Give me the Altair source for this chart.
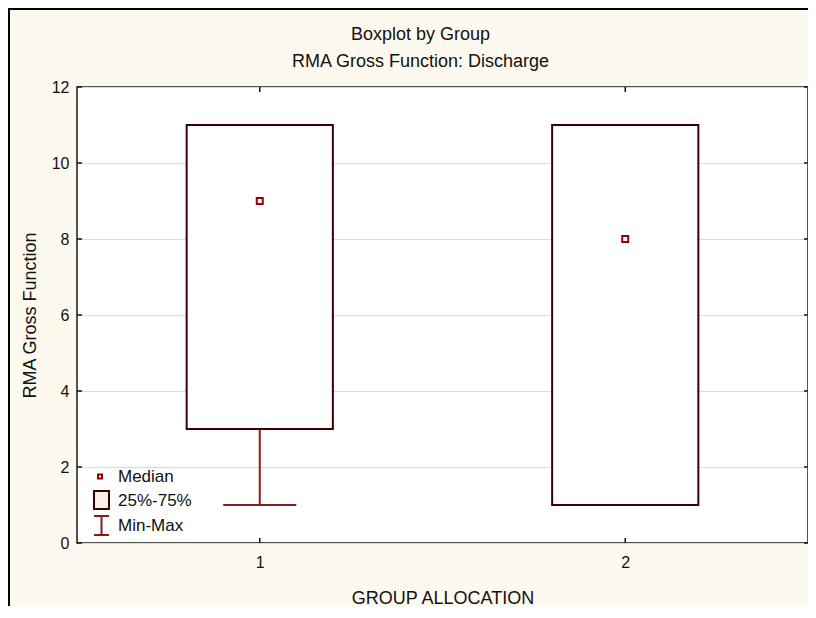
import altair as alt
import pandas as pd

# ---- data ----
groups = [1, 2]
mins = [1, 1]
q1s = [3, 1]
medians = [9, 8]
q3s = [11, 11]
maxs = [11, 11]
y_ticks = [0, 2, 4, 6, 8, 10, 12]
x_ticks = [1, 2]
legend_labels = ["Median", "25%-75%", "Min-Max"]

df = pd.DataFrame({"group": groups, "min": mins, "q1": q1s, "median": medians,
                   "q3": q3s, "max": maxs})
yt_df = pd.DataFrame({"v": y_ticks})
xt_df = pd.DataFrame({"g": x_ticks})

W, H = 731, 456
BOX_HALF = 0.2
CAP_HALF = 0.1
FONT = "Liberation Sans"
BOX_COL = "#3D0000"
WHISK_COL = "#8B1A1A"
MED_COL = "#990000"

xs = alt.Scale(domain=[0.5, 2.5], nice=False, zero=False)
ys = alt.Scale(domain=[0, 12], nice=False)

x_axis = alt.Axis(values=x_ticks, format="d", title="GROUP ALLOCATION", grid=False,
                  ticks=False, domain=False, labelPadding=11, titlePadding=19)
y_axis = alt.Axis(values=y_ticks, title="RMA Gross Function", grid=True,
                  gridColor="#D9D9D9", gridWidth=1, ticks=False, domain=False,
                  labelPadding=8, titlePadding=12)


def X(f):
    return alt.X(f, scale=xs, axis=x_axis)


def Y(f):
    return alt.Y(f, scale=ys, axis=y_axis)


base = alt.Chart(df).transform_calculate(
    xl=f"datum.group - {BOX_HALF}", xr=f"datum.group + {BOX_HALF}",
    cl=f"datum.group - {CAP_HALF}", cr=f"datum.group + {CAP_HALF}")

max_cap = base.mark_rule(color="#B86A6A", strokeWidth=2).encode(
    x=X("cl:Q"), x2="cr:Q", y=Y("max:Q"))
whisk_lo = base.mark_rule(color=WHISK_COL, strokeWidth=2).encode(
    x=X("group:Q"), y=Y("min:Q"), y2="q1:Q")
whisk_hi = base.mark_rule(color=WHISK_COL, strokeWidth=2).encode(
    x=X("group:Q"), y=Y("q3:Q"), y2="max:Q")
min_cap = base.mark_rule(color=WHISK_COL, strokeWidth=2).encode(
    x=X("cl:Q"), x2="cr:Q", y=Y("min:Q"))
box = base.mark_rect(fill="white", stroke=BOX_COL, strokeWidth=2).encode(
    x=X("xl:Q"), x2="xr:Q", y=Y("q1:Q"), y2="q3:Q")
med = base.mark_square(filled=False, size=36, stroke=MED_COL, strokeWidth=2,
                       fill="white", fillOpacity=1, opacity=1).encode(
    x=X("group:Q"), y=Y("median:Q"))

# inner ticks on the frame
lt = alt.Chart(yt_df).mark_rule(color="#111", strokeWidth=1.5).encode(
    y=Y("v:Q"), x=alt.value(0), x2=alt.value(5))
rt = alt.Chart(yt_df).mark_rule(color="#111", strokeWidth=1.5).encode(
    y=Y("v:Q"), x=alt.value(W - 4), x2=alt.value(W + 3))
bt = alt.Chart(xt_df).mark_rule(color="#111", strokeWidth=1.5).encode(
    x=X("g:Q"), y=alt.value(H), y2=alt.value(H - 5))
tt = alt.Chart(xt_df).mark_rule(color="#111", strokeWidth=1.5).encode(
    x=X("g:Q"), y=alt.value(0), y2=alt.value(5))

# legend (bottom-left, inside plot)
ldf = pd.DataFrame({"label": legend_labels})
leg_text = [
    alt.Chart(ldf).transform_filter(alt.datum.label == lab).mark_text(
        align="left", baseline="middle", font=FONT, fontSize=17, color="#111").encode(
        text="label:N", x=alt.value(41), y=alt.value(yy))
    for lab, yy in zip(legend_labels, [389.5, 414, 438.5])
]
leg_med = alt.Chart(ldf).transform_filter(alt.datum.label == "Median").mark_square(
    filled=False, size=16, stroke=MED_COL, strokeWidth=2, fill="white", fillOpacity=1).encode(
    x=alt.value(23), y=alt.value(389.5))
leg_box = alt.Chart(ldf).transform_filter(alt.datum.label == "25%-75%").mark_rect(
    fill="#FAF3E6", stroke=BOX_COL, strokeWidth=2).encode(
    x=alt.value(17), x2=alt.value(32), y=alt.value(404), y2=alt.value(422))
leg_mm = alt.Chart(ldf).transform_filter(alt.datum.label == "Min-Max")
leg_mm_v = leg_mm.mark_rule(color=WHISK_COL, strokeWidth=2).encode(
    x=alt.value(24.5), y=alt.value(429), y2=alt.value(448))
leg_mm_t = leg_mm.mark_rule(color=WHISK_COL, strokeWidth=2).encode(
    x=alt.value(17), x2=alt.value(32), y=alt.value(429))
leg_mm_b = leg_mm.mark_rule(color=WHISK_COL, strokeWidth=2).encode(
    x=alt.value(17), x2=alt.value(32), y=alt.value(448))

# outer frame of the whole figure
frame = alt.Chart(ldf).transform_filter(alt.datum.label == "Median").mark_rect(
    fill=None, stroke="#000", strokeWidth=2).encode(
    x=alt.value(-68), x2=alt.value(W + 40), y=alt.value(-78), y2=alt.value(H + 80))

chart = alt.layer(
    max_cap, whisk_lo, whisk_hi, min_cap, box, med,
    lt, rt, bt, tt,
    *leg_text, leg_med, leg_box, leg_mm_v, leg_mm_t, leg_mm_b,
    frame,
).properties(
    width=W, height=H,
    autosize=alt.AutoSizeParams(type="none"),
    padding={"left": 69, "top": 79, "right": 0, "bottom": 63},
    background="#FEF9EE",
    title=alt.TitleParams(text="Boxplot by Group", subtitle="RMA Gross Function: Discharge",
                          anchor="middle", frame="group", dx=-22, dy=71, fontSize=18,
                          subtitleFontSize=18, fontWeight="normal", font=FONT,
                          subtitleFont=FONT, color="#111", subtitleColor="#111",
                          subtitlePadding=9, offset=8),
).configure_view(
    fill="white", stroke="#1a1a1a", strokeWidth=1.5
).configure_axis(
    labelFont=FONT, titleFont=FONT, labelFontSize=16, titleFontSize=18,
    labelColor="#111", titleColor="#111", titleFontWeight="normal"
)

chart.save("out.html", embed_options={"renderer": "svg", "actions": False})
